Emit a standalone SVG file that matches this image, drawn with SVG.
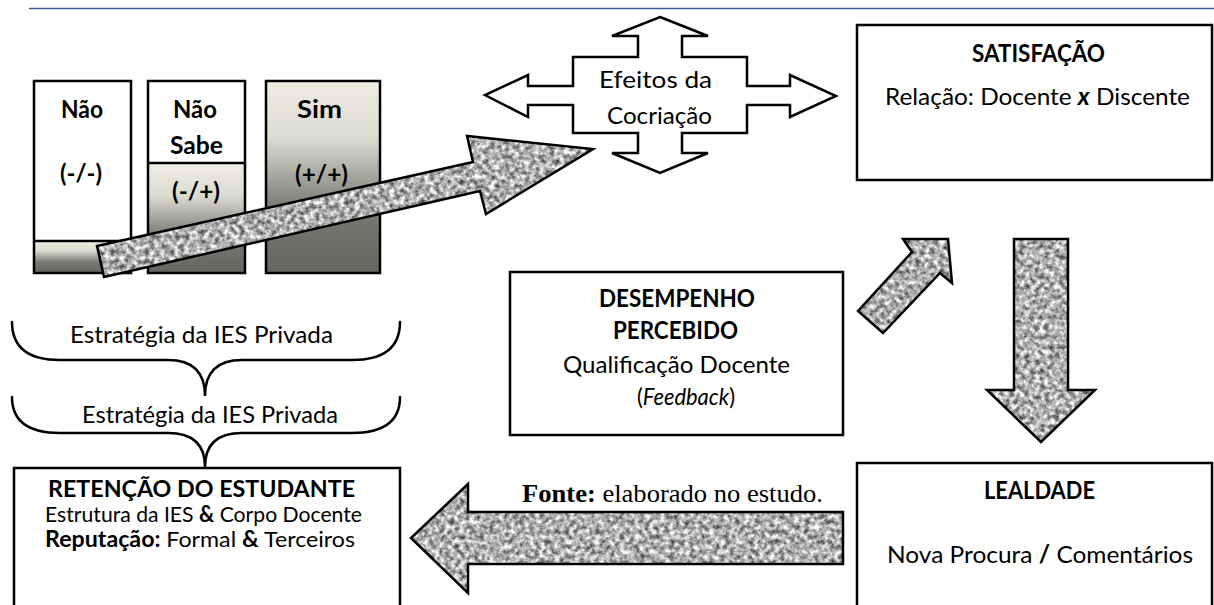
<svg xmlns="http://www.w3.org/2000/svg" width="1214" height="605" viewBox="0 0 1214 605">
<style>
.box{fill:#fff;stroke:#000;stroke-width:2.5}
.t{font-family:Lato,"Liberation Sans",sans-serif;font-size:24px;fill:#000}
.s{font-size:22px}
.b{font-weight:bold}
.i{font-style:italic}
.ol{fill:none;stroke:#000;stroke-width:2.5;stroke-linejoin:miter}
.br{fill:none;stroke:#000;stroke-width:2.5;stroke-linecap:round}
.tex{fill:#000;stroke:none;filter:url(#noise)}
</style>
<defs>
<filter id="noise" filterUnits="userSpaceOnUse" x="0" y="0" width="1214" height="605" color-interpolation-filters="sRGB">
<feTurbulence type="fractalNoise" baseFrequency="0.2" numOctaves="3" seed="7" result="n"/>
<feColorMatrix in="n" type="matrix" values="1.25 0 0 0 0.06  1.25 0 0 0 0.06  1.25 0 0 0 0.06  0 0 0 0 1" result="g"/>
<feComposite in="g" in2="SourceGraphic" operator="in"/>
</filter>
<linearGradient id="gr" x1="0" y1="0" x2="0" y2="1">
<stop offset="0" stop-color="#f0eee2"/>
<stop offset="0.3" stop-color="#dcdbd0"/>
<stop offset="0.66" stop-color="#7a7a74"/>
<stop offset="1" stop-color="#656561"/>
</linearGradient>
<path id="p1" d="M97,246 L473,162 L467,136 L593,149 L486,214 L480,191 L104,277 Z"/>
<path id="p2" d="M858,311 L912,252 L903,239 L948,239 L952,283 L940,273 L883,333 Z"/>
<path id="p3" d="M1014,239 L1068,239 L1068,390 L1095,390 L1041,442 L987,390 L1014,390 Z"/>
<path id="p4" d="M843,512 L468,512 L468,484 L411,538 L468,593 L468,564 L843,564 Z"/>
</defs>
<rect width="1214" height="605" fill="#fff"/>
<line x1="29" y1="8.5" x2="1214" y2="8.5" stroke="#365f91" stroke-width="1.6"/>

<g id="bar-nao">
<rect x="34" y="81" width="97" height="160" fill="#fff"/>
<rect x="34" y="241" width="97" height="32" fill="url(#gr)"/>
<rect x="34" y="81" width="97" height="192" class="ol"/>
<line x1="34" y1="241" x2="131" y2="241" stroke="#000" stroke-width="2.5"/>
<text class="t b" x="61" y="118" textLength="42" lengthAdjust="spacingAndGlyphs">Não</text>
<text class="t b" x="60" y="182" textLength="42" lengthAdjust="spacingAndGlyphs">(-/-)</text>
</g>

<g id="bar-naosabe">
<rect x="148" y="81" width="97" height="82" fill="#fff"/>
<rect x="148" y="163" width="97" height="110" fill="url(#gr)"/>
<rect x="148" y="81" width="97" height="192" class="ol"/>
<line x1="148" y1="163" x2="245" y2="163" stroke="#000" stroke-width="2.5"/>
<text class="t b" x="173" y="118" textLength="44" lengthAdjust="spacingAndGlyphs">Não</text>
<text class="t b" x="170" y="154" textLength="53" lengthAdjust="spacingAndGlyphs">Sabe</text>
<text class="t b" x="172" y="200" textLength="48" lengthAdjust="spacingAndGlyphs">(-/+)</text>
</g>

<g id="bar-sim">
<rect x="266" y="81" width="114" height="192" fill="url(#gr)"/>
<rect x="266" y="81" width="114" height="192" class="ol"/>
<text class="t b" x="297" y="118" textLength="45" lengthAdjust="spacingAndGlyphs">Sim</text>
<text class="t b" x="295" y="183" textLength="53" lengthAdjust="spacingAndGlyphs">(+/+)</text>
</g>

<g id="efeitos">
<polygon class="box" points="660,17 708,36 682,36 682,57 747,57 747,86 790,86 790,75 836,96 790,117 790,105 747,105 747,133 682,133 682,153 708,153 660,173 612,153 638,153 638,133 573,133 573,105 528,105 528,117 485,95 528,75 528,86 573,86 573,57 638,57 638,36 612,36"/>
<text class="t" x="599" y="88" textLength="113" lengthAdjust="spacingAndGlyphs">Efeitos da</text>
<text class="t" x="607" y="124" textLength="105" lengthAdjust="spacingAndGlyphs">Cocriação</text>
</g>

<g id="satisfacao">
<rect class="box" x="857" y="25" width="355" height="155"/>
<text class="t b" x="972" y="62" textLength="133" lengthAdjust="spacingAndGlyphs">SATISFAÇÃO</text>
<text class="t" x="885" y="105" textLength="305" lengthAdjust="spacingAndGlyphs">Relação: Docente <tspan class="b i">x</tspan> Discente</text>
</g>

<g id="desempenho">
<rect class="box" x="510" y="272" width="333" height="163"/>
<text class="t b" x="599" y="307" textLength="156" lengthAdjust="spacingAndGlyphs">DESEMPENHO</text>
<text class="t b" x="613" y="339" textLength="125" lengthAdjust="spacingAndGlyphs">PERCEBIDO</text>
<text class="t" x="563" y="373" textLength="227" lengthAdjust="spacingAndGlyphs">Qualificação Docente</text>
<text class="t" x="637" y="405" textLength="98" lengthAdjust="spacingAndGlyphs">(<tspan class="i">Feedback</tspan>)</text>
</g>

<g id="estrategia">
<path class="br" d="M12,322 Q12,360 60,360 L168,360 Q205,360 205,396 Q205,360 242,360 L352,360 Q400,360 400,322"/>
<text class="t" x="70" y="343" textLength="263" lengthAdjust="spacingAndGlyphs">Estratégia da IES Privada</text>
<path class="br" d="M12,397 Q12,433 60,433 L168,433 Q205,433 205,467 Q205,433 242,433 L352,433 Q400,433 400,397"/>
<text class="t" x="82" y="423" textLength="256" lengthAdjust="spacingAndGlyphs">Estratégia da IES Privada</text>
</g>

<g id="retencao">
<rect class="box" x="14" y="468" width="386" height="170"/>
<text class="t s b" x="48" y="497" textLength="307" lengthAdjust="spacingAndGlyphs">RETENÇÃO DO ESTUDANTE</text>
<text class="t s" x="45" y="522" textLength="317" lengthAdjust="spacingAndGlyphs">Estrutura da IES <tspan class="b">&amp;</tspan> Corpo Docente</text>
<text class="t s" x="45" y="547" textLength="310" lengthAdjust="spacingAndGlyphs"><tspan class="b">Reputação:</tspan> Formal <tspan class="b">&amp;</tspan> Terceiros</text>
</g>

<g id="lealdade">
<rect class="box" x="857" y="463" width="355" height="170"/>
<text class="t b" x="984" y="499" textLength="111" lengthAdjust="spacingAndGlyphs">LEALDADE</text>
<text class="t" x="887" y="563" textLength="306" lengthAdjust="spacingAndGlyphs">Nova Procura <tspan class="b">/</tspan> Comentários</text>
</g>

<g id="connectors">
<use href="#p1" class="tex"/>
<use href="#p1" class="ol"/>
<use href="#p2" class="tex"/>
<use href="#p2" class="ol"/>
<use href="#p3" class="tex"/>
<use href="#p3" class="ol"/>
<use href="#p4" class="tex"/>
<use href="#p4" class="ol"/>
</g>

<text x="522" y="502" font-family="'Liberation Serif',serif" font-size="26" textLength="301" lengthAdjust="spacingAndGlyphs"><tspan font-weight="bold">Fonte:</tspan> elaborado no estudo.</text>
</svg>
